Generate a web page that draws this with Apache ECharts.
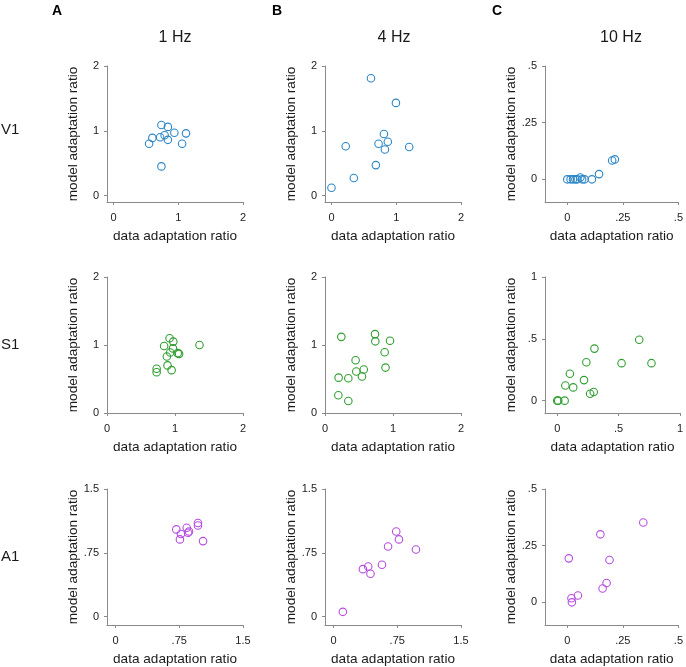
<!DOCTYPE html>
<html>
<head>
<meta charset="utf-8">
<script src="https://cdn.jsdelivr.net/npm/echarts@6/dist/echarts.min.js"></script>
<style>
html,body{margin:0;padding:0;background:#fff;}
#chart{width:686px;height:667px;}
</style>
</head>
<body>
<div id="chart"></div>
<script>
// ---- data ----
const colLetters = ['A', 'B', 'C'];
const colTitles = ['1 Hz', '4 Hz', '10 Hz'];
const rowNames = ['V1', 'S1', 'A1'];
const xName = 'data adaptation ratio';
const yName = 'model adaptation ratio';

// tick values / labels per panel (row-major)
const ticksV1ab = [0, 1, 2];          const labelsV1ab = ['0', '1', '2'];
const ticksV1c = [0, 0.25, 0.5];      const labelsV1c = ['0', '.25', '.5'];
const ticksS1ab = [0, 1, 2];          const labelsS1ab = ['0', '1', '2'];
const ticksS1c = [0, 0.5, 1];         const labelsS1c = ['0', '.5', '1'];
const ticksA1ab = [0, 0.75, 1.5];     const labelsA1ab = ['0', '.75', '1.5'];
const ticksA1c = [0, 0.25, 0.5];      const labelsA1c = ['0', '.25', '.5'];

// V1
const v1_1hz_x = [0.55, 0.60, 0.74, 0.84, 0.72, 0.79, 0.84, 0.94, 1.12, 1.06, 0.74];
const v1_1hz_y = [0.80, 0.89, 1.09, 1.06, 0.90, 0.93, 0.86, 0.97, 0.96, 0.80, 0.45];
const v1_4hz_x = [0.00, 0.22, 0.345, 0.61, 0.685, 0.727, 0.81, 0.87, 0.825, 0.995, 1.20];
const v1_4hz_y = [0.12, 0.76, 0.27, 1.81, 0.47, 0.80, 0.95, 0.83, 0.71, 1.43, 0.75];
const v1_10hz_x = [0.000, 0.015, 0.026, 0.037, 0.045, 0.059, 0.067, 0.078, 0.111, 0.143, 0.202, 0.214];
const v1_10hz_y = [0.000, 0.000, 0.000, 0.000, 0.000, 0.008, 0.000, 0.000, 0.000, 0.023, 0.083, 0.088];
// S1
const s1_1hz_x = [0.73, 0.73, 0.84, 0.92, 0.975, 0.97, 0.88, 0.93, 0.89, 0.95, 1.04, 1.06, 1.36];
const s1_1hz_y = [0.65, 0.60, 0.985, 1.10, 1.05, 0.95, 0.83, 0.89, 0.70, 0.63, 0.88, 0.87, 1.00];
const s1_4hz_x = [0.24, 0.20, 0.196, 0.343, 0.343, 0.45, 0.46, 0.544, 0.57, 0.735, 0.74, 0.956, 0.877, 0.89];
const s1_4hz_y = [1.12, 0.52, 0.26, 0.51, 0.176, 0.776, 0.61, 0.537, 0.64, 1.16, 1.054, 1.063, 0.893, 0.668];
const s1_10hz_x = [0.000, 0.008, 0.060, 0.066, 0.103, 0.130, 0.218, 0.237, 0.268, 0.297, 0.303, 0.524, 0.668, 0.768];
const s1_10hz_y = [0.000, 0.000, 0.000, 0.123, 0.217, 0.107, 0.166, 0.311, 0.056, 0.070, 0.421, 0.303, 0.493, 0.303];
// A1
const a1_1hz_x = [0.715, 0.77, 0.758, 0.838, 0.854, 0.865, 0.97, 0.97, 1.03];
const a1_1hz_y = [1.025, 0.97, 0.907, 1.044, 0.985, 1.00, 1.10, 1.07, 0.887];
const a1_4hz_x = [0.11, 0.346, 0.408, 0.435, 0.57, 0.642, 0.738, 0.77, 0.97];
const a1_4hz_y = [0.055, 0.557, 0.589, 0.503, 0.609, 0.824, 1.00, 0.907, 0.789];
const a1_10hz_x = [0.007, 0.019, 0.021, 0.048, 0.149, 0.159, 0.177, 0.190, 0.342];
const a1_10hz_y = [0.194, 0.018, 0.000, 0.030, 0.300, 0.061, 0.085, 0.187, 0.352];

// ---- layout / style ----
const FONT = "'Liberation Sans', Arial, sans-serif";
const rowColors = ['#2a86c6', '#2f9e2f', '#b64ddf'];
const gridLeft = [107, 325, 545];
const gridTop = [66, 277, 489];
const gridSize = 136;
const axisColor = '#8a8a8a';

const panels = [
  {r:0, c:0, x:v1_1hz_x, y:v1_1hz_y, min:-0.1, max:2, ticks:ticksV1ab, labels:labelsV1ab},
  {r:0, c:1, x:v1_4hz_x, y:v1_4hz_y, min:-0.1, max:2, ticks:ticksV1ab, labels:labelsV1ab},
  {r:0, c:2, x:v1_10hz_x, y:v1_10hz_y, min:-0.1, max:0.5, ticks:ticksV1c, labels:labelsV1c},
  {r:1, c:0, x:s1_1hz_x, y:s1_1hz_y, min:0, max:2, ticks:ticksS1ab, labels:labelsS1ab},
  {r:1, c:1, x:s1_4hz_x, y:s1_4hz_y, min:0, max:2, ticks:ticksS1ab, labels:labelsS1ab},
  {r:1, c:2, x:s1_10hz_x, y:s1_10hz_y, min:-0.1, max:1, ticks:ticksS1c, labels:labelsS1c},
  {r:2, c:0, x:a1_1hz_x, y:a1_1hz_y, min:-0.1, max:1.5, ticks:ticksA1ab, labels:labelsA1ab},
  {r:2, c:1, x:a1_4hz_x, y:a1_4hz_y, min:-0.1, max:1.5, ticks:ticksA1ab, labels:labelsA1ab},
  {r:2, c:2, x:a1_10hz_x, y:a1_10hz_y, min:-0.1, max:0.5, ticks:ticksA1c, labels:labelsA1c}
];

function fmt(ticks, labels) {
  return function (v) {
    for (let i = 0; i < ticks.length; i++) {
      if (Math.abs(ticks[i] - v) < 1e-9) return labels[i];
    }
    return '';
  };
}

function makeAxis(p, i, isY) {
  return {
    type: 'value',
    gridIndex: i,
    min: p.min,
    max: p.max,
    name: isY ? yName : xName,
    nameLocation: 'middle',
    nameGap: isY ? 27 : 27,
    nameTextStyle: {fontFamily: FONT, fontSize: 13.6, color: '#1a1a1a'},
    axisLine: {show: true, onZero: false, lineStyle: {color: axisColor, width: 1}},
    axisTick: {show: true, inside: false, length: 3, customValues: p.ticks, lineStyle: {color: axisColor}},
    axisLabel: {show: true, margin: isY ? 8 : 10, customValues: p.ticks, formatter: fmt(p.ticks, p.labels),
                fontFamily: FONT, fontSize: 11, color: '#222'},
    splitLine: {show: false}
  };
}

const grids = [], xAxes = [], yAxes = [], series = [];
panels.forEach(function (p, i) {
  grids.push({left: gridLeft[p.c], top: gridTop[p.r], width: gridSize, height: gridSize, containLabel: false});
  xAxes.push(makeAxis(p, i, false));
  yAxes.push(makeAxis(p, i, true));
  series.push({
    type: 'scatter',
    xAxisIndex: i,
    yAxisIndex: i,
    symbol: 'circle',
    symbolSize: 7.5,
    silent: true,
    itemStyle: {color: 'rgba(255,255,255,0)', borderColor: rowColors[p.r], borderWidth: 1.1, opacity: 1},
    data: p.x.map(function (xv, k) { return [xv, p.y[k]]; })
  });
});

const graphics = [];
const letterX = [57, 277, 497];
const titleX = [175, 394, 621];
colLetters.forEach(function (t, c) {
  graphics.push({type: 'text', left: letterX[c] - 5, top: 4,
    style: {text: t, font: 'bold 14px ' + FONT, fill: '#000'}});
  graphics.push({type: 'text', x: titleX[c], y: 38,
    style: {text: colTitles[c], font: '16px ' + FONT, fill: '#1a1a1a', textAlign: 'center', textVerticalAlign: 'middle'}});
});
const rowY = [130, 345, 557];
rowNames.forEach(function (t, r) {
  graphics.push({type: 'text', x: 1, y: rowY[r],
    style: {text: t, font: '15px ' + FONT, fill: '#1a1a1a', textAlign: 'left', textVerticalAlign: 'middle'}});
});

const chart = echarts.init(document.getElementById('chart'), null, {renderer: 'canvas'});
chart.setOption({
  backgroundColor: '#fff',
  animation: false,
  grid: grids,
  xAxis: xAxes,
  yAxis: yAxes,
  series: series,
  graphic: graphics
});
</script>
</body>
</html>
